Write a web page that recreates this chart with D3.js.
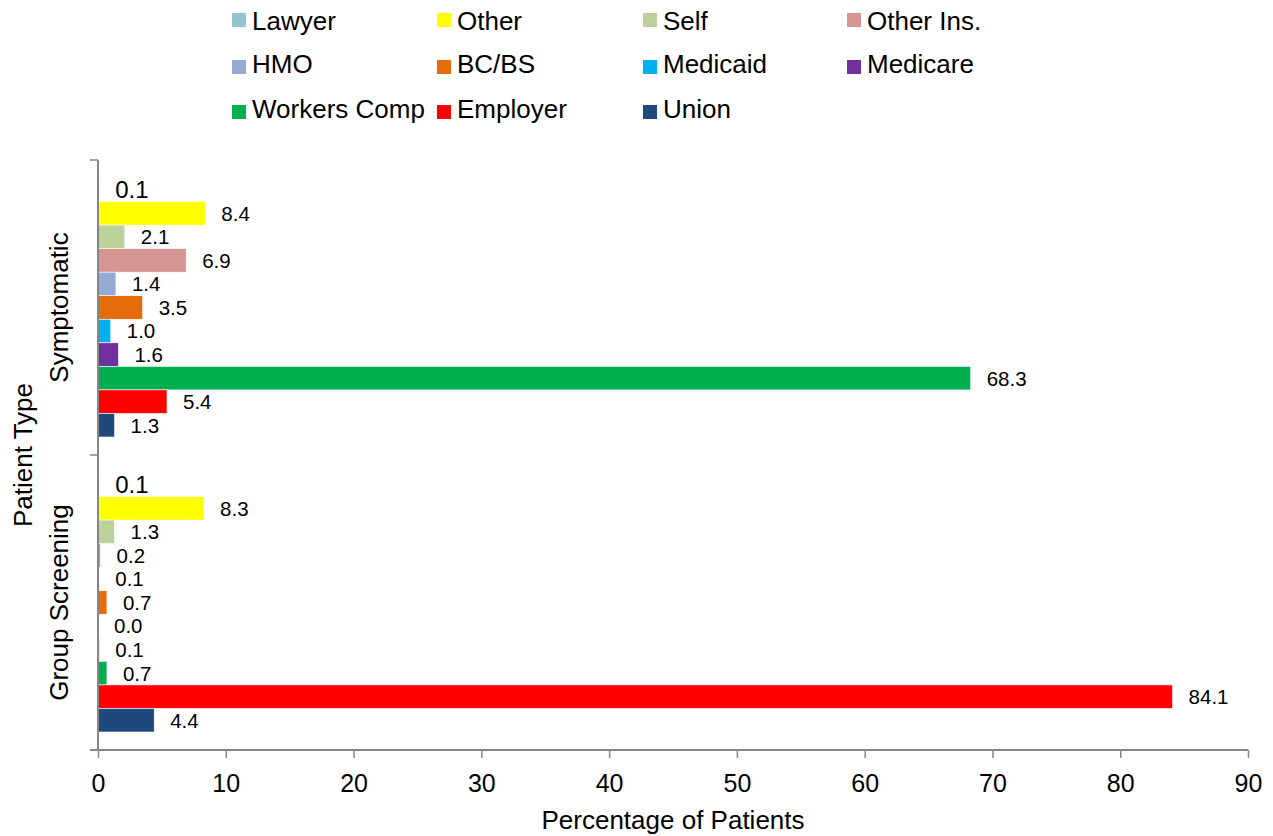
<!DOCTYPE html>
<html><head><meta charset="utf-8">
<script src="https://cdn.jsdelivr.net/npm/d3@7"></script>
<style>body{margin:0;background:#fff;font-family:Arial,"Liberation Sans",sans-serif;}</style>
</head><body><svg id="c" width="1273" height="836" font-family="Arial, 'Liberation Sans', sans-serif"></svg>
<script>
const categories = ["Symptomatic", "Group Screening"];
const seriesNames = ["Lawyer","Other","Self","Other Ins.","HMO","BC/BS","Medicaid","Medicare","Workers Comp","Employer","Union"];
const symptomatic = [0.1, 8.4, 2.1, 6.9, 1.4, 3.5, 1.0, 1.6, 68.3, 5.4, 1.3];
const groupScreening = [0.1, 8.3, 1.3, 0.2, 0.1, 0.7, 0.0, 0.1, 0.7, 84.1, 4.4];
const colors = ["#93c4d2","#ffff00","#bbd29a","#d59593","#95abd3","#e46c0a","#00b0f0","#7030a0","#00b050","#ff0000","#1f497d"];
const xTicks = [0,10,20,30,40,50,60,70,80,90];
const legendOrder = [["Lawyer","Other","Self","Other Ins."],["HMO","BC/BS","Medicaid","Medicare"],["Workers Comp","Employer","Union"]];

const valuesByCat = {"Symptomatic": symptomatic, "Group Screening": groupScreening};
const svg = d3.select("#c");
const L = 98, R = 1248, T = 160, B = 750;
const x = d3.scaleLinear().domain([0,90]).range([L,R]);
const y0 = d3.scaleBand().domain(categories).range([T,B]).paddingInner(0.122).paddingOuter(0.061);
const y1 = d3.scaleBand().domain(seriesNames).range([0,y0.bandwidth()]).padding(0);
const color = d3.scaleOrdinal().domain(seriesNames).range(colors);
const axisCol = "#868686";

// bars
categories.forEach(cat => {
  const g = svg.append("g").attr("transform", `translate(0,${y0(cat)})`);
  const data = seriesNames.map((s,i)=>({s, v: valuesByCat[cat][i]}));
  g.selectAll("rect").data(data).enter().append("rect")
    .attr("x", x(0)).attr("y", d=>y1(d.s))
    .attr("width", d=>x(d.v)-x(0)).attr("height", y1.bandwidth())
    .attr("fill", d=>color(d.s)).attr("stroke","#fff").attr("stroke-width",0.6);
  g.selectAll("text").data(data).enter().append("text")
    .attr("x", d=>x(d.v)+16).attr("y", d=>y1(d.s)+y1.bandwidth()/2)
    .attr("dy","0.36em")
    .attr("font-size", d=>d.s==="Lawyer"?24:20.5)
    .attr("fill","#000")
    .text(d=>d.v.toFixed(1));
});

// x axis
const xa = svg.append("g").attr("transform",`translate(0,${B})`)
  .call(d3.axisBottom(x).tickValues(xTicks).tickSize(8).tickPadding(16).tickFormat(d3.format("d")));
xa.select(".domain").attr("stroke",axisCol).attr("stroke-width",2).attr("d",`M${L-8},0H${R}`);
xa.selectAll(".tick line").attr("stroke",axisCol).attr("stroke-width",1.5);
xa.selectAll(".tick text").attr("font-size",25).attr("font-family","Arial, 'Liberation Sans', sans-serif").attr("fill","#000");

// y axis
const ya = svg.append("g").attr("transform",`translate(${L},0)`);
ya.append("line").attr("x1",0).attr("x2",0).attr("y1",T).attr("y2",B).attr("stroke",axisCol).attr("stroke-width",2);
[T, y0(categories[1]) - y0.step()*0.122/2, B].forEach(v=>{
  ya.append("line").attr("x1",-8).attr("x2",0).attr("y1",v).attr("y2",v).attr("stroke",axisCol).attr("stroke-width",1.5);
});
categories.forEach(cat=>{
  const cy = y0(cat)+y0.bandwidth()/2;
  svg.append("text").attr("transform",`translate(68,${cy}) rotate(-90)`)
    .attr("text-anchor","middle").attr("font-size",26).text(cat);
});

// titles
svg.append("text").attr("x",(L+R)/2).attr("y",829).attr("text-anchor","middle").attr("font-size",26).text("Percentage of Patients");
svg.append("text").attr("transform",`translate(32,${(T+B)/2}) rotate(-90)`).attr("text-anchor","middle").attr("font-size",26).text("Patient Type");

// legend
const colX = [232, 437, 643, 847];
const rowBase = [30, 73, 118];
const rowSqTop = [13, 60, 105];
legendOrder.forEach((row,ri)=>{
  row.forEach((name,ci)=>{
    const g = svg.append("g").attr("transform",`translate(${colX[ci]},0)`);
    g.append("rect").attr("x",0).attr("y",rowSqTop[ri]).attr("width",14).attr("height",14).attr("fill",color(name));
    g.append("text").attr("x",20).attr("y",rowBase[ri]).attr("font-size",26).text(name);
  });
});
</script></body></html>
